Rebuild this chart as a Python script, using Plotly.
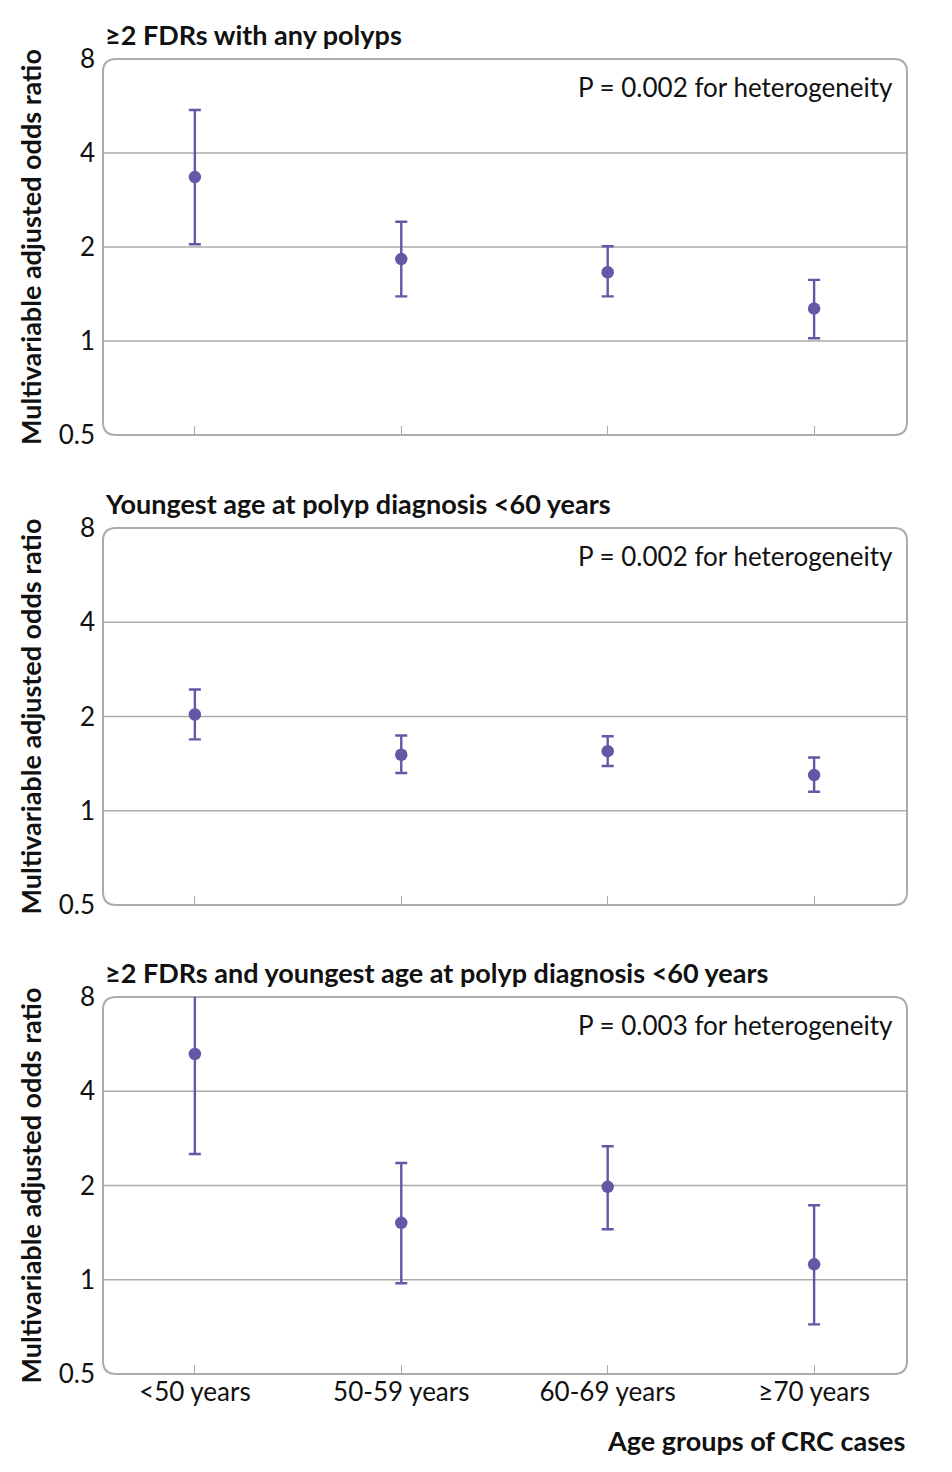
import math
import plotly.graph_objects as go

age_groups = ["<50 years", "50-59 years", "60-69 years", "≥70 years"]

panel_titles = [
    "≥2 FDRs with any polyps",
    "Youngest age at polyp diagnosis <60 years",
    "≥2 FDRs and youngest age at polyp diagnosis <60 years",
]
p_texts = [
    "P = 0.002 for heterogeneity",
    "P = 0.002 for heterogeneity",
    "P = 0.003 for heterogeneity",
]

or_any_polyps = [3.35, 1.83, 1.66, 1.27]
lo_any_polyps = [2.04, 1.39, 1.39, 1.02]
hi_any_polyps = [5.49, 2.41, 2.01, 1.57]

or_young = [2.03, 1.51, 1.55, 1.30]
lo_young = [1.69, 1.32, 1.39, 1.15]
hi_young = [2.44, 1.74, 1.73, 1.48]

or_both = [5.26, 1.52, 1.98, 1.12]
lo_both = [2.52, 0.975, 1.45, 0.72]
hi_both = [10.0, 2.36, 2.67, 1.73]

y_ticks = [0.5, 1, 2, 4, 8]
grid_vals = [1, 2, 4]

PURPLE = "#6657a6"
GRAY = "#ababab"
FONT = "Lato"
REG = 26
BOLD = 27

OFF = 8  # body margin of the page
W, H = 952 - OFF, 1472 - OFF
ML, MT = 103 - OFF, 59 - OFF
PW = 907 - 103
PH = 1374 - 59
MR = W - ML - PW
MB = H - MT - PH

panels_px = [(59, 435), (528, 905), (997, 1374)]
domains = []
for t, b in panels_px:
    domains.append([1 - (b - 59) / PH, 1 - (t - 59) / PH])

fig = go.Figure()

series = [
    (or_any_polyps, lo_any_polyps, hi_any_polyps),
    (or_young, lo_young, hi_young),
    (or_both, lo_both, hi_both),
]

shapes = []
annotations = []
for i, (vals, lo, hi) in enumerate(series):
    n = i + 1
    xa = "x" if n == 1 else f"x{n}"
    ya = "y" if n == 1 else f"y{n}"
    fig.add_trace(go.Scatter(
        x=age_groups, y=vals, mode="markers",
        marker=dict(color=PURPLE, size=12.5),
        error_y=dict(type="data", symmetric=False,
                     array=[h - v for h, v in zip(hi, vals)],
                     arrayminus=[v - l for v, l in zip(vals, lo)],
                     color=PURPLE, thickness=2.4, width=6),
        xaxis=xa, yaxis=ya, showlegend=False, hoverinfo="skip",
    ))
    xkey = "xaxis" if n == 1 else f"xaxis{n}"
    ykey = "yaxis" if n == 1 else f"yaxis{n}"
    fig.update_layout({
        xkey: dict(domain=[0, 1], anchor=ya, type="category",
                   categoryorder="array", categoryarray=age_groups,
                   range=[-0.445, 3.45], showgrid=False, zeroline=False,
                   showline=False, ticks="inside", ticklen=9, tickwidth=1.2,
                   tickcolor=GRAY, showticklabels=(n == 3),
                   tickfont=dict(family=FONT, size=REG, color="#111")),
        ykey: dict(domain=domains[i], anchor=xa, type="log",
                   range=[math.log10(0.5), math.log10(8)],
                   tickvals=y_ticks, ticktext=[str(v) for v in y_ticks],
                   showgrid=False, zeroline=False, showline=False, ticks="",
                   ticklabelstandoff=7,
                   tickfont=dict(family=FONT, size=REG, color="#111"),
                   title=dict(text="<b>Multivariable adjusted odds ratio</b>",
                              font=dict(family=FONT, size=BOLD, color="#111"),
                              standoff=9)),
    })
    for g in grid_vals:
        shapes.append(dict(type="line", xref=f"{xa} domain", yref=ya,
                           x0=0, x1=1, y0=g, y1=g,
                           line=dict(color=GRAY, width=1.5), layer="below"))
    y0, y1 = domains[i]
    x0, x1 = 0, 1
    r = 13
    rx, ry = r / PW, r / PH
    path = (f"M {x0+rx},{y0} L {x1-rx},{y0} Q {x1},{y0} {x1},{y0+ry} "
            f"L {x1},{y1-ry} Q {x1},{y1} {x1-rx},{y1} L {x0+rx},{y1} "
            f"Q {x0},{y1} {x0},{y1-ry} L {x0},{y0+ry} Q {x0},{y0} {x0+rx},{y0} Z")
    shapes.append(dict(type="path", xref="paper", yref="paper", path=path,
                       line=dict(color=GRAY, width=2), layer="below"))
    annotations.append(dict(text=f"<b>{panel_titles[i]}</b>", xref="paper", yref="paper",
                            x=0, y=y1, xanchor="left", yanchor="bottom", yshift=6,
                            showarrow=False,
                            font=dict(family=FONT, size=BOLD, color="#111")))
    annotations.append(dict(text=p_texts[i], xref=f"{xa} domain", yref=f"{ya} domain",
                            x=1, y=1, xanchor="right", yanchor="top",
                            xshift=-12, yshift=-10, showarrow=False,
                            font=dict(family=FONT, size=REG, color="#111")))

annotations.append(dict(text="<b>Age groups of CRC cases</b>", xref="paper", yref="paper",
                        x=1, y=0, xanchor="right", yanchor="top", yshift=-48,
                        showarrow=False, font=dict(family=FONT, size=BOLD, color="#111")))

fig.update_layout(
    width=W, height=H,
    margin=dict(l=ML, r=MR, t=MT, b=MB),
    paper_bgcolor="white", plot_bgcolor="rgba(0,0,0,0)",
    shapes=shapes, annotations=annotations,
    font=dict(family=FONT, color="#111"),
)

fig.write_html("out.html")
